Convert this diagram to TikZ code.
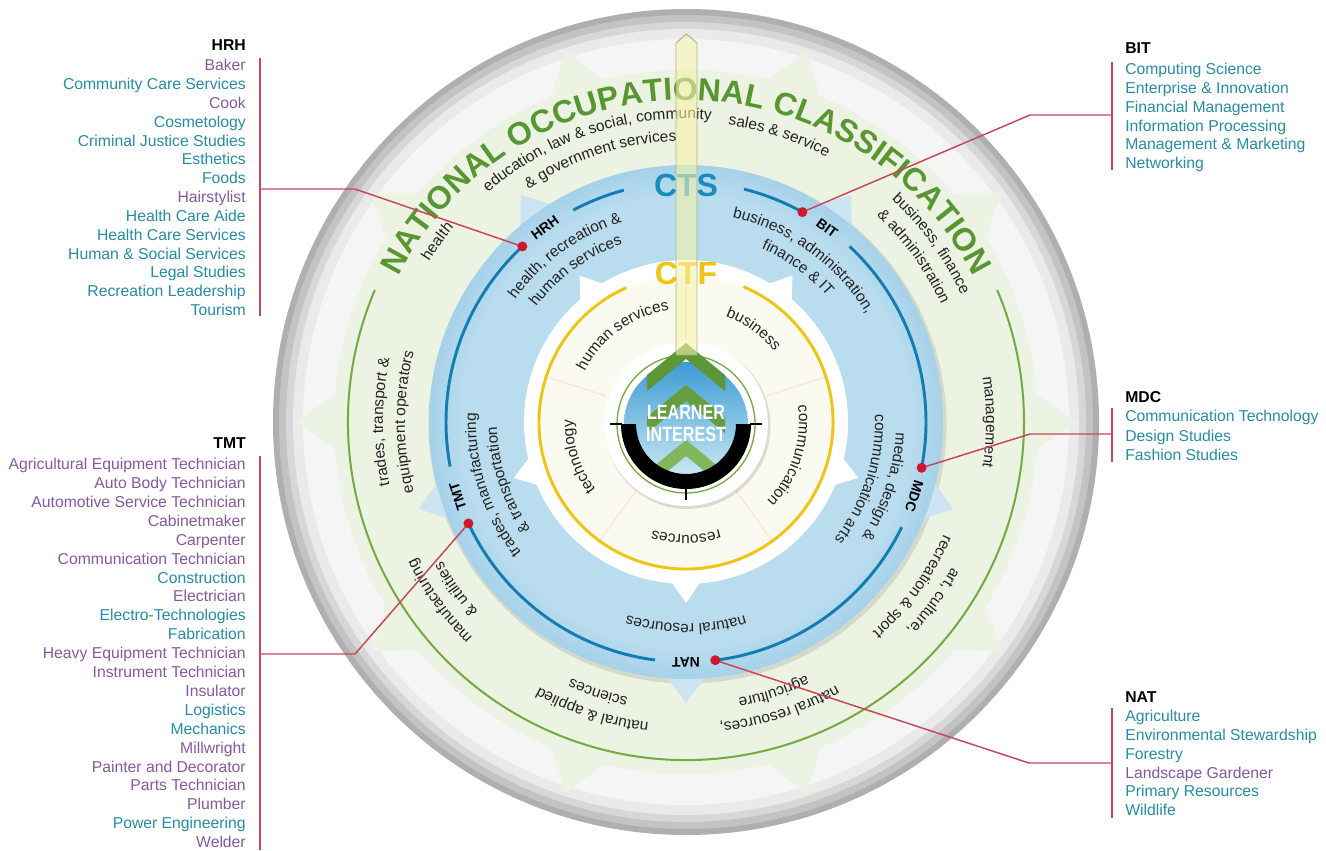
\documentclass[tikz,border=0pt]{standalone}
\usepackage{fontspec}
\setmainfont{Liberation Sans}
\usetikzlibrary{decorations.text}
\definecolor{pu}{RGB}{135,88,160}
\definecolor{te}{RGB}{38,140,165}
\definecolor{redl}{RGB}{200,70,90}
\definecolor{redd}{RGB}{205,25,45}
\definecolor{nocg}{RGB}{88,150,50}
\definecolor{paleg}{RGB}{236,243,226}
\definecolor{lineg}{RGB}{115,170,65}
\definecolor{ctsb}{RGB}{25,140,190}
\definecolor{arcb}{RGB}{20,125,175}
\definecolor{ctfy}{RGB}{240,196,20}
\definecolor{cream}{RGB}{251,250,240}
\definecolor{bla}{RGB}{185,220,239}
\definecolor{blb}{RGB}{128,188,221}
\definecolor{blc}{RGB}{170,210,232}
\definecolor{bltooth}{RGB}{205,229,242}
\definecolor{txt}{RGB}{35,35,35}
\definecolor{rimA}{RGB}{175,175,175}
\definecolor{rimB}{RGB}{195,195,195}
\definecolor{rimC}{RGB}{215,215,215}
\definecolor{rimD}{RGB}{234,234,234}
\definecolor{rimE}{RGB}{245,245,245}
\definecolor{faint}{RGB}{238,234,214}
\definecolor{sky}{RGB}{60,155,210}
\definecolor{skyl}{RGB}{215,238,248}
\definecolor{chA}{RGB}{92,150,55}
\definecolor{chB}{RGB}{100,158,62}
\definecolor{chC}{RGB}{130,182,90}
\definecolor{barf}{RGB}{246,242,170}
\definecolor{bard}{RGB}{150,170,115}
\pgfdeclareradialshading{bluedisk}{\pgfpoint{0bp}{0bp}}{color(0bp)=(bla); color(22bp)=(bla); color(31bp)=(blb); color(35.4bp)=(blc); color(50bp)=(blc)}
\newcommand\rf{\fontsize{11.6}{13}\selectfont}
\newcommand\lf{\fontsize{11.8}{14}\selectfont}
\newcommand\rtext[4]{\path[decorate,decoration={text along path,text align=center,text color=txt,text={|\rf|#4}}] ({#1+#3}:#2) arc[start angle={#1+#3},end angle={#1-#3},radius=#2];}
\begin{document}
\begin{tikzpicture}[x=0.75pt,y=0.75pt,
  item/.style={font=\lf, inner sep=0pt},
  ttl/.style={font=\lf\bfseries, inner sep=0pt, text=black},
  conn/.style={draw=redl, line width=1.1pt},
  dot/.style={circle, fill=redd, minimum size=7.5pt, inner sep=0pt},
  code/.style={font=\fontsize{10.5}{12}\selectfont\bfseries, text=black, inner sep=0pt},
  big/.style={font=\fontsize{24}{28}\selectfont\bfseries, inner sep=0pt}]
\useasboundingbox (0,0) rectangle (1326,-850);
\begin{scope}[shift={(686,-422)}]
  % outer rim
  \fill[rimA] (0,0) circle (413);
  \fill[rimB] (0,0) circle (407);
  \fill[rimC] (0,0) circle (400);
  \fill[rimD] (0,0) circle (393);
  \fill[rimE] (0,0) circle (383);
  % NOC ring
  \foreach \a in {0,36,...,324}
    \fill[paleg] ({\a-5}:348) -- (\a:390) -- ({\a+5}:348) -- cycle;
  \fill[paleg] (0,0) circle (352);
  \draw[lineg, line width=1.5pt] (157:338) arc[start angle=157, end angle=383, radius=338];
  \rtext{144}{303}{40}{health}
  \rtext{108}{303}{60}{education, law {\&} social, community}
  \rtext{108}{281}{60}{{\&} government services}
  \rtext{72}{300}{40}{sales {\&} service}
  \rtext{36}{303}{50}{business, finance}
  \rtext{36}{281}{50}{{\&} administration}
  \rtext{0}{300}{40}{management}
  \rtext{324}{303}{50}{art, culture,}
  \rtext{324}{281}{50}{recreation {\&} sport}
  \rtext{288}{303}{50}{natural resources,}
  \rtext{288}{281}{50}{agriculture}
  \rtext{252}{303}{50}{natural {\&} applied}
  \rtext{252}{281}{50}{sciences}
  \rtext{216}{303}{50}{manufacturing}
  \rtext{216}{281}{50}{{\&} utilities}
  \rtext{180}{303}{50}{trades, transport {\&}}
  \rtext{180}{281}{50}{equipment operators}
  \path[decorate,decoration={text along path,text align=center,text color=nocg,text={|\fontsize{24}{28}\selectfont\bfseries|NATIONAL OCCUPATIONAL CLASSIFICATION}}] (175:322) arc[start angle=175,end angle=5,radius=322];
  % CTS ring
  \fill[black, opacity=0.10] (1.5,-2.5) circle (259);
  \foreach \a in {270,342,54,126,198}
    \fill[bltooth] ({\a-5.5}:250) -- (\a:281) -- ({\a+5.5}:250) -- cycle;
  \shade[shading=bluedisk] (0,0) circle (257);
  \foreach \s/\e in {277/334, 349/407, 61/76, 105/118, 133/190.7, 205/262.6}
    \draw[arcb, line width=2.2pt] (\s:240) arc[start angle=\s, end angle=\e, radius=240];
  \rtext{126}{210}{50}{health, recreation {\&}}
  \rtext{126}{189}{50}{human services}
  \rtext{54}{210}{50}{business, administration,}
  \rtext{54}{189}{50}{finance {\&} IT}
  \rtext{342}{210}{50}{media, design {\&}}
  \rtext{342}{189}{50}{communication arts}
  \rtext{198}{210}{50}{trades, manufacturing}
  \rtext{198}{189}{50}{{\&} transportation}
  \rtext{270}{202}{50}{natural resources}
  \foreach \a/\n in {126/HRH,54/BIT,342/MDC,198/TMT,270/NAT}
    \node[code, rotate=\a-90] (lab\n) at (\a:240) {\n};
  \node[big, text=ctsb] (cts) at (0,237) {CTS};
  % CTF disk
  \foreach \a in {270,342,54,126,198}
    \fill[white] ({\a-6}:158) -- (\a:181) -- ({\a+6}:158) -- cycle;
  \fill[white] (0,0) circle (162);
  \fill[cream] (0,0) circle (146);
  \foreach \a in {18,90,162,234,306}
    \draw[faint, line width=0.8pt] (\a:84) -- (\a:146);
  \draw[ctfy, line width=2.2pt] (114:147) arc[start angle=114, end angle=427, radius=147];
  \node[big, text=ctfy] (ctf) at (0,149) {CTF};
  \rtext{126}{113}{60}{human services}
  \rtext{54}{113}{50}{business}
  \rtext{342}{113}{60}{communication}
  \rtext{270}{113}{50}{resources}
  \rtext{198}{113}{60}{technology}
  % pin positions
  \coordinate (hrhdot) at (133:240);
  \coordinate (bitdot) at (61:240);
  \coordinate (mdcdot) at (349:240);
  \coordinate (tmtdot) at (205:240);
  \coordinate (natdot) at (277:240);
\end{scope}
% learner interest centre
\begin{scope}[shift={(686,-424)}]
  \fill[black, opacity=0.12] (1.5,-2) circle (83);
  \fill[white] (0,0) circle (82);
  \draw[lineg, line width=1pt] (0,0) circle (69);
  \shade[top color=sky, bottom color=skyl] (0,0) circle (62);
  \begin{scope}
    \clip (0,0) circle (62);
    \fill[chC] (0,-16) -- (39,-48) -- (39,-64) -- (0,-32) -- (-39,-64) -- (-39,-48) -- cycle;
  \end{scope}
  \fill[black] (180:65) arc[start angle=180, end angle=360, radius=65] -- (0:50) arc[start angle=360, end angle=180, radius=50] -- cycle;
  \fill[chB] (0,39) -- (39,7) -- (39,-9) -- (0,23) -- (-39,-9) -- (-39,7) -- cycle;
  \fill[chA] (0,81) -- (39,49) -- (39,33) -- (0,65) -- (-39,33) -- (-39,49) -- cycle;
  \draw[black, line width=1pt] (-76,0) -- (-64,0) (64,0) -- (76,0) (0,-62) -- (0,-76);
  \node[font=\fontsize{15.5}{17}\selectfont\bfseries, text=white, inner sep=0pt] (learner) at (0,12) {\scalebox{0.78}[1]{LEARNER}};
  \node[font=\fontsize{15.5}{17}\selectfont\bfseries, text=white, inner sep=0pt] (interest) at (0,-10) {\scalebox{0.78}[1]{INTEREST}};
\end{scope}
% yellow pointer bar
\filldraw[fill=barf, draw=bard, fill opacity=0.6, draw opacity=0.8, line width=0.7pt] (676,-355) -- (676,-43) -- (686.5,-34) -- (697,-43) -- (697,-355) -- cycle;
% lists
\node[ttl, anchor=base east] (hrhttl) at (246,-50.6) {HRH};
\foreach \c/\t [count=\i from 0] in {pu/Baker,te/Community Care Services,pu/Cook,te/Cosmetology,te/Criminal Justice Studies,te/Esthetics,te/Foods,pu/Hairstylist,te/Health Care Aide,te/Health Care Services,te/Human \& Social Services,te/Legal Studies,te/Recreation Leadership,te/Tourism}
  \node[item, text=\c, anchor=base east] (hrh\i) at (246,{-70.6-18.85*\i}) {\t};
\node[ttl, anchor=base east] (tmtttl) at (246,-448.6) {TMT};
\foreach \c/\t [count=\i from 0] in {pu/Agricultural Equipment Technician,pu/Auto Body Technician,pu/Automotive Service Technician,pu/Cabinetmaker,pu/Carpenter,pu/Communication Technician,te/Construction,pu/Electrician,te/Electro-Technologies,te/Fabrication,pu/Heavy Equipment Technician,pu/Instrument Technician,pu/Insulator,te/Logistics,te/Mechanics,pu/Millwright,pu/Painter and Decorator,pu/Parts Technician,pu/Plumber,te/Power Engineering,pu/Welder}
  \node[item, text=\c, anchor=base east] (tmt\i) at (246,{-469.6-18.9*\i}) {\t};
\node[ttl, anchor=base west] (bitttl) at (1125,-53.6) {BIT};
\foreach \t [count=\i from 0] in {Computing Science,Enterprise \& Innovation,Financial Management,Information Processing,Management \& Marketing,Networking}
  \node[item, text=te, anchor=base west] (bit\i) at (1125,{-74.6-18.8*\i}) {\t};
\node[ttl, anchor=base west] (mdcttl) at (1125,-402.6) {MDC};
\foreach \t [count=\i from 0] in {Communication Technology,Design Studies,Fashion Studies}
  \node[item, text=te, anchor=base west] (mdc\i) at (1125,{-421.6-19.5*\i}) {\t};
\node[ttl, anchor=base west] (natttl) at (1125,-702.6) {NAT};
\foreach \c/\t [count=\i from 0] in {te/Agriculture,te/Environmental Stewardship,te/Forestry,pu/Landscape Gardener,te/Primary Resources,te/Wildlife}
  \node[item, text=\c, anchor=base west] (nat\i) at (1125,{-721.6-18.8*\i}) {\t};
% connectors
\coordinate (hrhtop) at (260,-58); \coordinate (hrhbot) at (260,-316);
\coordinate (hrhj) at (260,-189); \coordinate (hrhb) at (355,-189);
\coordinate (tmttop) at (260,-456); \coordinate (tmtbot) at (260,-850);
\coordinate (tmtj) at (260,-654); \coordinate (tmtb) at (355,-654);
\coordinate (bittop) at (1112,-62); \coordinate (bitbot) at (1112,-170);
\coordinate (bitj) at (1112,-115); \coordinate (bitb) at (1030,-115);
\coordinate (mdctop) at (1112,-408); \coordinate (mdcbot) at (1112,-462);
\coordinate (mdcj) at (1112,-434); \coordinate (mdcb) at (1030,-434);
\coordinate (nattop) at (1112,-708); \coordinate (natbot) at (1112,-818);
\coordinate (natj) at (1112,-763); \coordinate (natb) at (1029,-763);
\foreach \n in {hrh,tmt,bit,mdc,nat}{
  \draw[conn] (\n top) -- (\n bot);
  \draw[conn] (\n j) -- (\n b) -- (\n dot);
  \node[dot] (\n pin) at (\n dot) {};
}
\end{tikzpicture}
\end{document}
